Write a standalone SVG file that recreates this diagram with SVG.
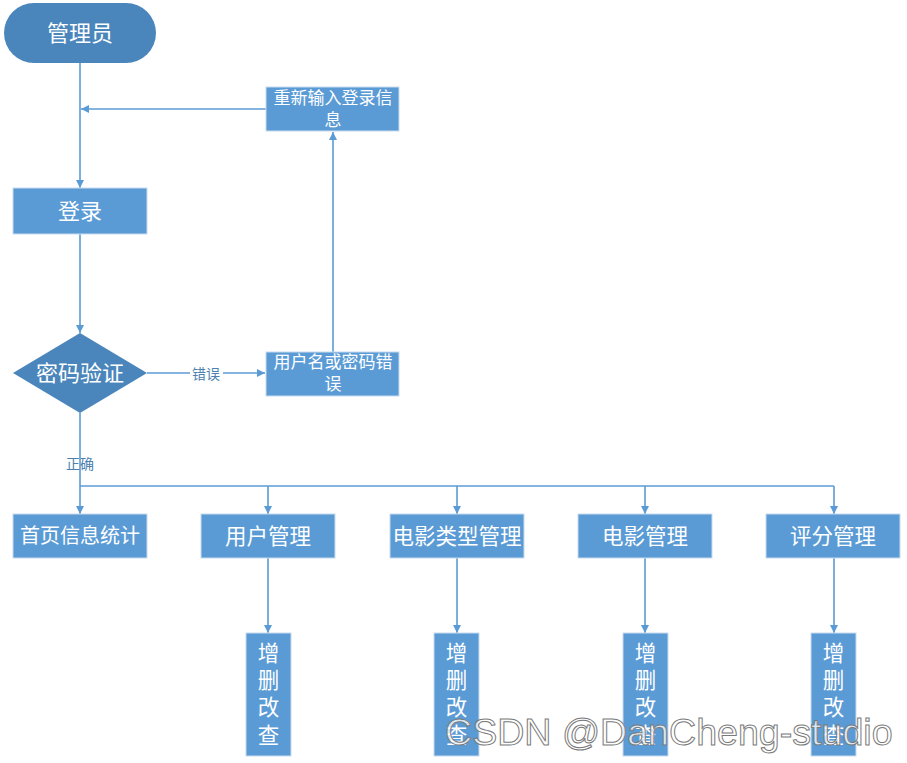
<svg xmlns="http://www.w3.org/2000/svg" width="907" height="763" viewBox="0 0 907 763">
<defs>
<style>
.box{fill:#5b9bd5;stroke:#c9dcef;stroke-width:1}
.dark{fill:#4a86bb}
.t{font-family:"Liberation Sans","Noto Sans CJK SC",sans-serif;fill:#fff;text-anchor:middle}
.big{font-size:22px}
.mid{font-size:21.5px}
.sm{font-size:17px}
.lbl{font-family:"Liberation Sans","Noto Sans CJK SC",sans-serif;font-size:14px;fill:#4d7fb0;text-anchor:middle}
.ln{fill:none;stroke:#5b9bd5;stroke-width:1.6;marker-end:url(#ah)}
.ln0{fill:none;stroke:#5b9bd5;stroke-width:1.6}
</style>
<marker id="ah" viewBox="0 0 10 10" refX="10" refY="5" markerWidth="8" markerHeight="8" markerUnits="userSpaceOnUse" orient="auto">
<path d="M0,0 L10,5 L0,10 z" fill="#5b9bd5"/>
</marker>
</defs>
<rect width="907" height="763" fill="#fff"/>

<g id="connectors">
<path class="ln" d="M80,63 V188"/>
<path class="ln" d="M266,109 H81"/>
<path class="ln" d="M80,234 V333"/>
<path class="ln" d="M147,373 H265"/>
<path class="ln" d="M333,352 V132"/>
<path class="ln" d="M80,413 V514"/>
<path class="ln0" d="M80,486 H834"/>
<path class="ln" d="M268,486 V514"/>
<path class="ln" d="M457,486 V514"/>
<path class="ln" d="M645,486 V514"/>
<path class="ln" d="M834,486 V514"/>
<path class="ln" d="M268,558 V633"/>
<path class="ln" d="M457,558 V633"/>
<path class="ln" d="M645,558 V633"/>
<path class="ln" d="M834,558 V633"/>
<rect x="190" y="365" width="33" height="17" fill="#fff"/>
<text class="lbl" x="206" y="379">错误</text>
<text class="lbl" x="80" y="469">正确</text>
</g>

<g id="admin">
<rect class="dark" x="4" y="3" width="152" height="60" rx="30"/>
<text class="t big" x="80" y="41">管理员</text>
</g>
<g id="login">
<rect class="box" x="13" y="188" width="134" height="46"/>
<text class="t big" x="80" y="219">登录</text>
</g>
<g id="reenter">
<rect class="box" x="266" y="87" width="133" height="44"/>
<text class="t sm" x="333" y="104">重新输入登录信</text>
<text class="t sm" x="333" y="126">息</text>
</g>
<g id="verify">
<path class="dark" d="M80,333 L147,373 L80,413 L13,373 z"/>
<text class="t big" x="80" y="381">密码验证</text>
</g>
<g id="error">
<rect class="box" x="266" y="352" width="133" height="44"/>
<text class="t sm" x="333" y="368">用户名或密码错</text>
<text class="t sm" x="333" y="390">误</text>
</g>
<g id="home">
<rect class="box" x="13" y="514" width="134" height="44"/>
<text class="t" font-size="20" x="80" y="543">首页信息统计</text>
</g>
<g id="user">
<rect class="box" x="201" y="514" width="134" height="44"/>
<text class="t mid" x="268" y="544">用户管理</text>
</g>
<g id="movietype">
<rect class="box" x="390" y="514" width="134" height="44"/>
<text class="t mid" x="457" y="544">电影类型管理</text>
</g>
<g id="movie">
<rect class="box" x="578" y="514" width="134" height="44"/>
<text class="t mid" x="645" y="544">电影管理</text>
</g>
<g id="rating">
<rect class="box" x="766" y="514" width="134" height="44"/>
<text class="t mid" x="833" y="544">评分管理</text>
</g>
<g id="crud1">
<rect class="box" x="246" y="633" width="45" height="123"/>
<text class="t mid" x="268.5" y="661">增</text>
<text class="t mid" x="268.5" y="688">删</text>
<text class="t mid" x="268.5" y="715">改</text>
<text class="t mid" x="268.5" y="743">查</text>
</g>
<g id="crud2">
<rect class="box" x="434" y="633" width="45" height="123"/>
<text class="t mid" x="456.5" y="661">增</text>
<text class="t mid" x="456.5" y="688">删</text>
<text class="t mid" x="456.5" y="715">改</text>
<text class="t mid" x="456.5" y="743">查</text>
</g>
<g id="crud3">
<rect class="box" x="623" y="633" width="45" height="123"/>
<text class="t mid" x="645.5" y="661">增</text>
<text class="t mid" x="645.5" y="688">删</text>
<text class="t mid" x="645.5" y="715">改</text>
<text class="t mid" x="645.5" y="743">查</text>
</g>
<g id="crud4">
<rect class="box" x="811" y="633" width="45" height="123"/>
<text class="t mid" x="833.5" y="661">增</text>
<text class="t mid" x="833.5" y="688">删</text>
<text class="t mid" x="833.5" y="715">改</text>
<text class="t mid" x="833.5" y="743">查</text>
</g>
<text x="445" y="745" font-family="Liberation Sans, Arial, sans-serif" font-size="37.6" fill="#ffffff" fill-opacity="0.75" stroke="#7a7a7a" stroke-width="1">CSDN @DanCheng-studio</text>
</svg>
